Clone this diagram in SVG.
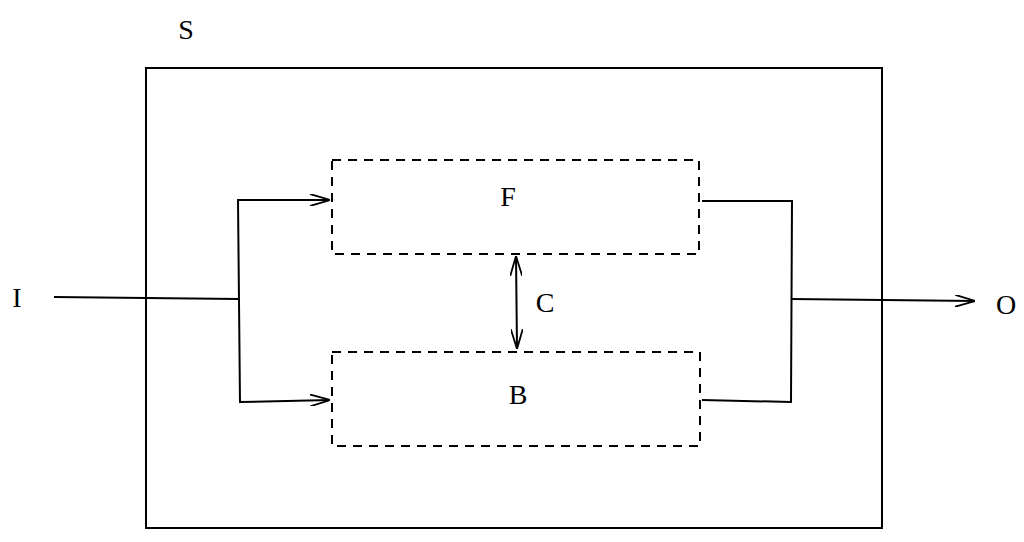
<svg xmlns="http://www.w3.org/2000/svg" width="1024" height="542" viewBox="0 0 1024 542">
<style>
.ln{stroke:#000;stroke-width:2;fill:none}
.ds{stroke:#000;stroke-width:2;fill:none;stroke-dasharray:9,7}
.t{font-family:"Liberation Serif","Times New Roman",serif;font-size:28px;fill:#000;text-anchor:middle}
</style>
<defs>
<marker id="ah" viewBox="0 0 20 12" refX="20" refY="6" markerWidth="20" markerHeight="12" markerUnits="userSpaceOnUse" orient="auto-start-reverse">
<path d="M0,0 L20,6 L0,12" fill="none" stroke="#000" stroke-width="1.8"/>
</marker>
</defs>
<rect width="1024" height="542" fill="#fff"/>
<g id="S">
<rect class="ln" x="146" y="68" width="736" height="460"/>
<text class="t" x="186" y="39">S</text>
</g>
<g id="F">
<rect class="ds" x="332" y="160" width="367" height="94"/>
<text class="t" x="508" y="206">F</text>
</g>
<g id="B">
<rect class="ds" x="332" y="352" width="368" height="94"/>
<text class="t" x="518" y="404">B</text>
</g>
<g id="I"><text class="t" x="17" y="307">I</text></g>
<g id="O"><text class="t" x="1006" y="314">O</text></g>
<g id="Clabel"><text class="t" x="545" y="312">C</text></g>
<g id="connectors">
<polyline class="ln" points="54,297 238,299"/>
<polyline class="ln" points="330,200 238,200 240,402 330,400" marker-start="url(#ah)" marker-end="url(#ah)"/>
<polyline class="ln" points="702,201 792,201 791,402 702,400"/>
<polyline class="ln" points="791,299 975,301" marker-end="url(#ah)"/>
<line class="ln" x1="516" y1="256" x2="517" y2="349" marker-start="url(#ah)" marker-end="url(#ah)"/>
</g>
</svg>
